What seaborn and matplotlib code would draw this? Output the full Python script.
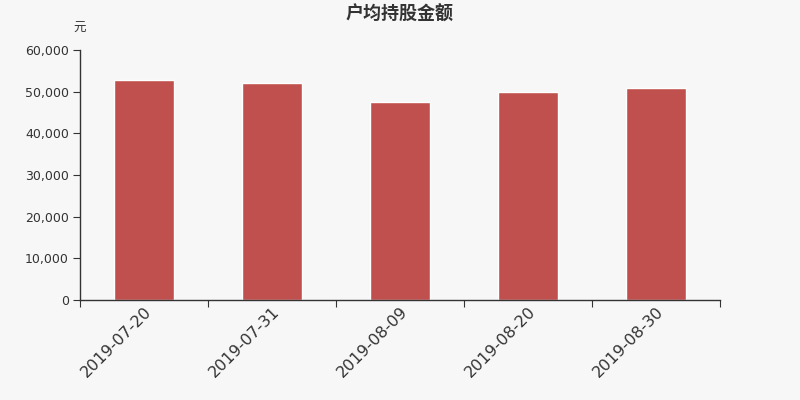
import matplotlib
matplotlib.use("Agg")
import matplotlib.pyplot as plt
import seaborn as sns
import pandas as pd
from matplotlib.ticker import FuncFormatter, FixedLocator

# data
dates = ["2019-07-20", "2019-07-31", "2019-08-09", "2019-08-20", "2019-08-30"]
amounts = [52700, 52000, 47450, 49850, 50800]

df = pd.DataFrame({"date": dates, "amount": amounts})

sns.set_style("ticks")
plt.rcParams["font.family"] = ["DejaVu Sans", "Noto Sans CJK SC"]

bg = "#f7f7f7"
fig = plt.figure(figsize=(8, 4), dpi=100, facecolor=bg)
ax = fig.add_axes([0.1, 0.25, 0.8, 0.625], facecolor=bg)

sns.barplot(data=df, x="date", y="amount", color="#c0504d", saturation=1,
            width=0.47, ax=ax)

ax.set_xlim(-0.5, len(dates) - 0.5)
ax.set_ylim(0, 60000)
ax.set_yticks(range(0, 60001, 10000))
ax.yaxis.set_major_formatter(FuncFormatter(lambda v, p: f"{int(v):,}"))

# ticks at category boundaries, labels centred on bars
ax.xaxis.set_major_locator(FixedLocator([i - 0.5 for i in range(len(dates) + 1)]))
ax.xaxis.set_minor_locator(FixedLocator(list(range(len(dates)))))
ax.set_xticklabels([], minor=False)
ax.set_xticklabels(dates, minor=True, rotation=45, ha="right",
                   rotation_mode="anchor", fontsize=11.5, color="#333333")
ax.tick_params(axis="x", which="minor", length=0, pad=3)
ax.tick_params(axis="x", which="major", length=5, color="#333333")
ax.tick_params(axis="y", length=5, color="#333333", labelsize=9,
               labelcolor="#333333", pad=3)

for s in ["top", "right"]:
    ax.spines[s].set_visible(False)
for s in ["left", "bottom"]:
    ax.spines[s].set_color("#333333")
    ax.spines[s].set_linewidth(1)

ax.set_xlabel("")
ax.set_ylabel("")

fig.text(0.5, 0.963, "户均持股金额", ha="center", va="center",
         fontsize=13, fontweight="bold", color="#333333")
fig.text(0.1, 0.928, "元", ha="center", va="center", fontsize=9,
         color="#333333")

fig.savefig("out.png", dpi=100, facecolor=bg)
